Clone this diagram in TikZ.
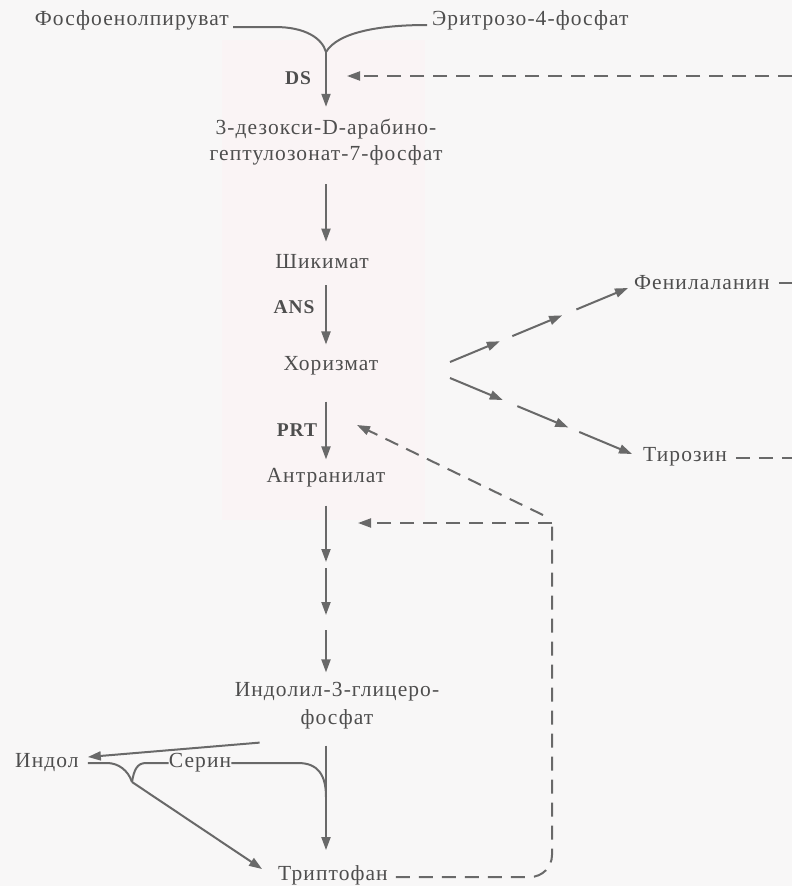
\documentclass[tikz,border=0pt]{standalone}
\usepackage{fontspec}
\setmainfont{Liberation Serif}[LetterSpace=5]
\usetikzlibrary{arrows.meta,calc}
\definecolor{ink}{RGB}{78,78,78}
\definecolor{wire}{RGB}{105,105,105}
\definecolor{paper}{RGB}{248,247,247}
\definecolor{tint}{RGB}{250,244,245}
\begin{document}
\begin{tikzpicture}[x=1pt,y=-1pt,
  lbl/.style={inner sep=0pt, text=ink, font=\fontsize{21.5}{26}\selectfont},
  enz/.style={inner sep=0pt, text=ink, font=\fontsize{19.5}{22}\selectfont\bfseries},
  wireline/.style={draw=wire, line width=2pt},
  arr/.style={wireline, -{Triangle[length=13pt,width=9pt]}},
  fb/.style={wireline, dash pattern=on 14pt off 9pt},
  fbarr/.style={fb, -{Triangle[length=13pt,width=9pt]}}
]
\fill[paper] (0,0) rectangle (792,886);
\useasboundingbox (0,0) rectangle (792,886);
\fill[tint] (222,40) rectangle (425,520);

% ---- nodes
\node[lbl, anchor=east] (pep) at (229,20) {Фосфоенолпируват};
\node[lbl, anchor=west] (e4p) at (432,20) {Эритрозо-4-фосфат};
\coordinate (j1) at (326,52);
\node[enz] (ds) at (298,78) {DS};
\node[lbl, align=center] (dahp) at (326,142) {3-дезокси-D-арабино-\\гептулозонат-7-фосфат};
\node[lbl] (shik) at (322,262) {Шикимат};
\node[enz] (ans) at (294,307) {ANS};
\node[lbl] (chor) at (331,366) {Хоризмат};
\node[lbl, anchor=west] (phe) at (634,283) {Фенилаланин};
\node[lbl, anchor=west] (tyr) at (643,457) {Тирозин};
\node[enz] (prt) at (297,430) {PRT};
\node[lbl] (anth) at (326,478) {Антранилат};
\node[lbl, align=center, font=\fontsize{21.5}{28}\selectfont] (igp) at (337,706) {Индолил-3-глицеро-\\фосфат};
\node[lbl, anchor=west] (ind) at (15,763) {Индол};
\node[lbl] (ser) at (200,763) {Серин};
\node[lbl] (trp) at (333,875) {Триптофан};

% ---- helper coordinates
\coordinate (m1) at (326,562);
\coordinate (m2) at (326,615);
\coordinate (j2) at (132,782);
\coordinate (j3) at (326,797);
\coordinate (r1) at (792,76);
\coordinate (tDS) at (347,76);
\coordinate (tPRT) at (357,425);
\coordinate (tIGP) at (358,523);
\coordinate (fc) at (552,523);
\coordinate (cu) at (450,362);
\coordinate (cd) at (450,378);
\coordinate (pe) at ($(phe.west)+(-6,5)$);
\coordinate (te) at ($(tyr.west)+(-11,-3)$);

% ---- top junction
\draw[wireline] ($(pep.east)+(4,7)$) -- (275,27) .. controls (305,27) and (322,38) .. (j1);
\draw[wireline] ($(e4p.west)+(-5,5)$) .. controls (380,25) and (338,32) .. (j1);
\draw[arr, shorten >=12pt] (j1) -- (dahp.north -| j1);

% ---- main column
\draw[arr, shorten <=19pt, shorten >=13pt] (dahp.south -| j1) -- (shik.north -| j1);
\draw[arr, shorten <=16pt, shorten >=12pt] (shik.south -| j1) -- (chor.north -| j1);
\draw[arr, shorten <=26pt, shorten >=9pt] (chor.south -| j1) -- (anth.north -| j1);
\draw[arr, shorten <=18pt] (anth.south -| j1) -- (m1);
\draw[arr, shorten <=6pt] (m1) -- (m2);
\draw[arr, shorten <=15pt, shorten >=10pt] (m2) -- (igp.north -| j1);
\draw[arr, shorten <=16pt, shorten >=15pt] (igp.south -| j1) -- (trp.north -| j1);

% ---- branches to Phe and Tyr
\foreach \a/\b in {0/0.28,0.35/0.63,0.71/1}{
  \draw[arr] ($(cu)!\a!(pe)$) -- ($(cu)!\b!(pe)$);
}
\foreach \a/\b in {0/0.29,0.37/0.65,0.71/1}{
  \draw[arr] ($(cd)!\a!(te)$) -- ($(cd)!\b!(te)$);
}

% ---- feedback
\draw[fbarr] (r1) -- (tDS);
\draw[fb] ($(phe.east)+(9,0)$) -- (phe.east -| r1);
\draw[fb] ($(tyr.east)+(9,1)$) -- ($(tyr.east -| r1)+(0,1)$);
\draw[fb, rounded corners=22pt] ($(trp.east)+(8,2)$) -- ($(trp.east -| fc)+(0,2)$) -- (fc);
\draw[fbarr] (fc) -- (tIGP);
\draw[fbarr] ($(fc)+(-9,-8)$) -- (tPRT);

% ---- indole / serine
\draw[arr] ($(igp.south west)+(25,13)$) -- ($(ind.east)+(9,-6)$);
\draw[wireline] ($(ind.east)+(9,0)$) -- (107,763) .. controls (118,763) and (128,770) .. (j2);
\draw[wireline] (j2) .. controls (134,770) and (137,763) .. (146,763) -- (ser.west);
\draw[wireline] (ser.east) -- (298,763) .. controls (318,763) and (326,775) .. (j3);
\draw[arr] (j2) -- ($(trp.west)+(-16,-6)$);
\end{tikzpicture}
\end{document}
